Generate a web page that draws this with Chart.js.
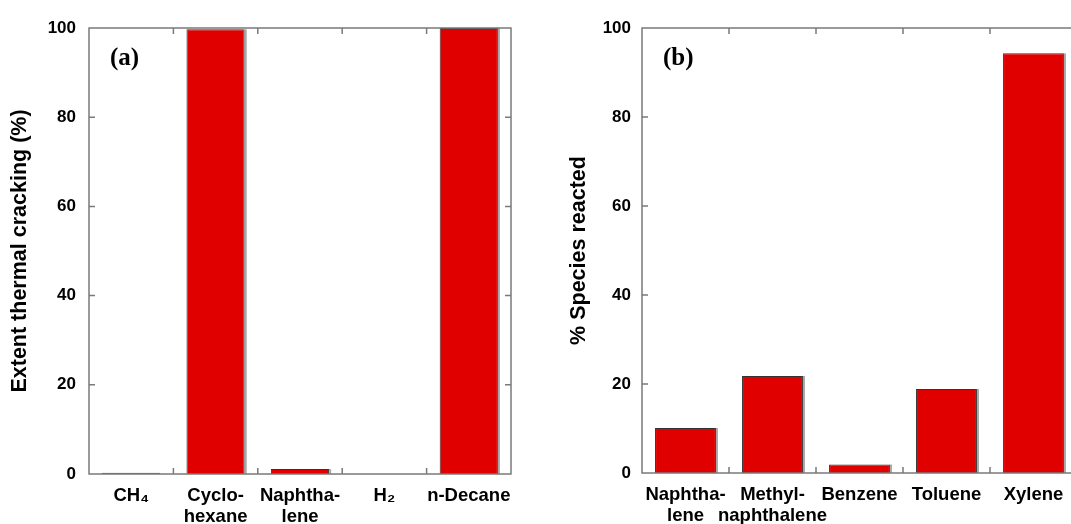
<!DOCTYPE html>
<html>
<head>
<meta charset="utf-8">
<script src="https://cdn.jsdelivr.net/npm/chart.js@4.4.1/dist/chart.umd.min.js"></script>
<style>
  html, body { margin: 0; padding: 0; background: #fff; overflow: hidden; width: 1071px; height: 524px; }
  #wrapA { position: absolute; left: 0; top: 0; }
  #wrapB { position: absolute; left: 536px; top: 0; }
</style>
</head>
<body>
<div id="wrapA"><canvas id="chartA" width="536" height="524"></canvas></div>
<div id="wrapB"><canvas id="chartB" width="545" height="524"></canvas></div>
<script>
// Panel (a) - thermal cracking
const crackLabels = ['CH₄', ['Cyclo-', 'hexane'], ['Naphtha-', 'lene'], 'H₂', 'n-Decane'];
const crackValues = [0.3, 99.7, 1.1, 0, 100];

// Panel (b) - species reacted
const speciesLabels = [['Naphtha-', 'lene'], ['Methyl-', 'naphthalene'], 'Benzene', 'Toluene', 'Xylene'];
const speciesValues = [10.1, 21.8, 1.9, 18.9, 94.3];

const yTickValues = [0, 20, 40, 60, 80, 100];

const RED = '#e00000';
const FRAME = '#7a7a7a';
const FONT = "'Liberation Sans', Arial, sans-serif";

// frame with inward ticks + panel letter, like the original plotting package
const framePlugin = {
    id: 'frame',
    afterDatasetsDraw(chart, args, opts) {
        const { ctx, chartArea: { left, right, top, bottom }, scales: { x, y } } = chart;
        ctx.save();

        // grey shade on right edge of each bar
        chart.getDatasetMeta(0).data.forEach(bar => {
            const p = bar.getProps(['x', 'y', 'base', 'width'], true);
            if (p.base - p.y > 2) {
                ctx.fillStyle = '#a8a8a8';
                ctx.fillRect(p.x + p.width / 2, p.y, 2, p.base - p.y);
            }
        });

        ctx.strokeStyle = FRAME;
        ctx.lineWidth = 1.5;
        ctx.strokeRect(left, top, right - left, bottom - top);

        const n = x.ticks.length;
        ctx.beginPath();
        for (let i = 0; i < n - 1; i++) {
            const bx = (x.getPixelForValue(i) + x.getPixelForValue(i + 1)) / 2;
            ctx.moveTo(bx, top); ctx.lineTo(bx, top + 6);
            ctx.moveTo(bx, bottom); ctx.lineTo(bx, bottom - 6);
        }
        yTickValues.slice(1, -1).forEach(v => {
            const py = y.getPixelForValue(v);
            ctx.moveTo(left, py); ctx.lineTo(left + 6, py);
            ctx.moveTo(right, py); ctx.lineTo(right - 6, py);
        });
        ctx.stroke();

        ctx.fillStyle = '#000';
        ctx.font = "bold 25px 'Liberation Serif', 'Times New Roman', serif";
        ctx.textBaseline = 'alphabetic';
        ctx.fillText(opts.letter, left + 21, top + 37);
        ctx.restore();
    }
};

function makeChart(id, labels, values, opts) {
    const ctx = document.getElementById(id).getContext('2d');
    return new Chart(ctx, {
        type: 'bar',
        data: {
            labels: labels,
            datasets: [{
                data: values,
                backgroundColor: RED,
                borderColor: '#333',
                borderWidth: 1,
                borderSkipped: 'bottom',
                barPercentage: opts.barPct,
                categoryPercentage: 1
            }]
        },
        options: {
            responsive: false,
            animation: false,
            events: [],
            layout: { padding: { top: 28, left: 0, right: opts.padRight, bottom: 0 } },
            plugins: {
                legend: { display: false },
                tooltip: { enabled: false },
                frame: { letter: opts.letter }
            },
            scales: {
                x: {
                    grid: { display: false, drawTicks: false },
                    border: { display: false },
                    ticks: {
                        color: '#000',
                        padding: 12,
                        maxRotation: 0,
                        autoSkip: false,
                        font: { family: FONT, size: 18.5, weight: 'bold', lineHeight: 1.1 }
                    },
                    afterFit: s => { s.height = opts.xHeight; }
                },
                y: {
                    min: 0,
                    max: 100,
                    afterBuildTicks: s => { s.ticks = yTickValues.map(v => ({ value: v })); },
                    grid: { display: false, drawTicks: false },
                    border: { display: false },
                    ticks: {
                        color: '#000',
                        padding: opts.yPad,
                        font: { family: FONT, size: 17, weight: 'bold' }
                    },
                    title: {
                        display: true,
                        text: opts.yTitle,
                        color: '#000',
                        padding: { top: opts.titlePad, bottom: 0 },
                        font: { family: FONT, size: 21.5, weight: 'bold' }
                    },
                    afterFit: s => { s.width = opts.yWidth; }
                }
            }
        },
        plugins: [framePlugin]
    });
}

makeChart('chartA', crackLabels, crackValues, {
    letter: '(a)', yTitle: 'Extent thermal cracking (%)',
    barPct: 0.69, padRight: 25, xHeight: 50, yWidth: 89, yPad: 13, titlePad: 7
});
makeChart('chartB', speciesLabels, speciesValues, {
    letter: '(b)', yTitle: '% Species reacted',
    barPct: 0.7, padRight: 4, xHeight: 51, yWidth: 106, yPad: 11, titlePad: 30
});
</script>
</body>
</html>
